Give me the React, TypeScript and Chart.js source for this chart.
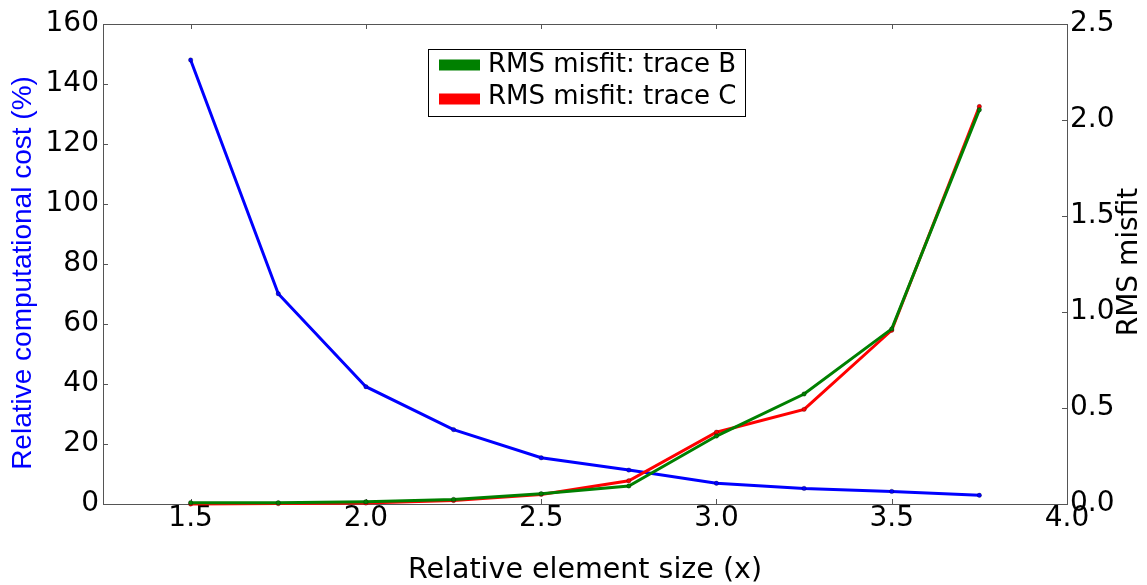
import React, { useEffect, useRef } from "react";
import { Chart, registerables } from "chart.js";

Chart.register(...registerables);

// ---- data ----
const elementSize = [1.5, 1.75, 2.0, 2.25, 2.5, 2.75, 3.0, 3.25, 3.5, 3.75];
const costPercent = [148, 70.1, 39.1, 24.8, 15.4, 11.3, 6.9, 5.2, 4.2, 2.9];
const rmsTraceB = [0.007, 0.007, 0.012, 0.024, 0.054, 0.094, 0.354, 0.573, 0.912, 2.053];
const rmsTraceC = [0.0, 0.002, 0.005, 0.018, 0.05, 0.121, 0.374, 0.493, 0.905, 2.07];

const xTickValues = [1.5, 2.0, 2.5, 3.0, 3.5, 4.0];
const leftTickValues = [0, 20, 40, 60, 80, 100, 120, 140, 160];
const rightTickValues = [0, 0.5, 1.0, 1.5, 2.0, 2.5];

const xTitle = "Relative element size (x)";
const leftTitle = "Relative computational cost (%)";
const rightTitle = "RMS misfit";
const labelB = "RMS misfit: trace B";
const labelC = "RMS misfit: trace C";

const W = 1147;
const H = 585;

const toPoints = (ys: number[]) => elementSize.map((x, i) => ({ x, y: ys[i] }));

const framePlugin = {
  id: "frameTicks",
  beforeDatasetsDraw(chart: any) {
    const { ctx, chartArea, scales } = chart;
    const { left, right, top, bottom } = chartArea;
    ctx.save();
    ctx.strokeStyle = "#555";
    ctx.lineWidth = 1;
    ctx.strokeRect(Math.round(left) + 0.5, Math.round(top) + 0.5, Math.round(right - left), Math.round(bottom - top));
    const L = 5;
    ctx.beginPath();
    scales.x.ticks.forEach((t: any) => {
      const px = Math.round(scales.x.getPixelForValue(t.value)) + 0.5;
      ctx.moveTo(px, bottom);
      ctx.lineTo(px, bottom - L);
      ctx.moveTo(px, top);
      ctx.lineTo(px, top + L);
    });
    scales.y.ticks.forEach((t: any) => {
      const py = Math.round(scales.y.getPixelForValue(t.value)) + 0.5;
      ctx.moveTo(left, py);
      ctx.lineTo(left + L, py);
    });
    scales.y1.ticks.forEach((t: any) => {
      const py = Math.round(scales.y1.getPixelForValue(t.value)) + 0.5;
      ctx.moveTo(right, py);
      ctx.lineTo(right - L, py);
    });
    ctx.stroke();
    ctx.restore();
  },
};

const titlesPlugin = {
  id: "yTitles",
  afterDraw(chart: any) {
    const { ctx } = chart;
    ctx.save();
    ctx.textAlign = "center";
    ctx.textBaseline = "middle";
    // left title
    ctx.save();
    ctx.translate(23, 273);
    ctx.rotate(-Math.PI / 2);
    ctx.fillStyle = "#0000ff";
    ctx.font = '28px "Liberation Sans", Arial, sans-serif';
    ctx.fillText(leftTitle, 0, 0);
    ctx.restore();
    // right title
    ctx.save();
    ctx.translate(1130, 262);
    ctx.rotate(-Math.PI / 2);
    ctx.fillStyle = "#000";
    ctx.font = '28px "DejaVu Sans", sans-serif';
    ctx.fillText(rightTitle, 0, 0);
    ctx.restore();
    ctx.restore();
  },
};

const legendPlugin = {
  id: "boxLegend",
  afterDraw(chart: any) {
    const { ctx } = chart;
    const items = chart.data.datasets.filter((d: any) => d.yAxisID === "y1");
    const bx = 428, by = 49, bw = 317, bh = 67;
    ctx.save();
    ctx.fillStyle = "#fff";
    ctx.fillRect(bx, by, bw, bh);
    ctx.strokeStyle = "#000";
    ctx.lineWidth = 1;
    ctx.strokeRect(bx + 0.5, by + 0.5, bw, bh);
    const textY = [65.5, 97];
    const swY = [65, 99];
    ctx.font = '26px "DejaVu Sans", sans-serif';
    ctx.textBaseline = "middle";
    ctx.textAlign = "left";
    items.forEach((d: any, i: number) => {
      ctx.fillStyle = d.borderColor;
      ctx.fillRect(439, swY[i] - 5.5, 41, 11);
      ctx.fillStyle = "#000";
      ctx.fillText(d.label, 488, textY[i]);
    });
    ctx.restore();
  },
};

export default function App() {
  const ref = useRef<HTMLCanvasElement | null>(null);

  useEffect(() => {
    if (!ref.current) return;
    const tickFont = { family: '"DejaVu Sans", sans-serif', size: 28, lineHeight: 1 };
    const chart = new Chart(ref.current, {
      type: "line",
      data: {
        datasets: [
          {
            label: labelB,
            data: toPoints(rmsTraceB),
            yAxisID: "y1",
            borderColor: "#008000",
            backgroundColor: "#008000",
            borderWidth: 3,
            pointRadius: 2.2,
            pointBackgroundColor: "#008000",
            pointBorderColor: "rgba(0,0,0,0.6)",
            pointBorderWidth: 0.5,
            tension: 0,
            clip: false,
            order: 1,
          },
          {
            label: labelC,
            data: toPoints(rmsTraceC),
            yAxisID: "y1",
            borderColor: "#ff0000",
            backgroundColor: "#ff0000",
            borderWidth: 3,
            pointRadius: 2.2,
            pointBackgroundColor: "#ff0000",
            pointBorderColor: "rgba(0,0,0,0.6)",
            pointBorderWidth: 0.5,
            tension: 0,
            clip: false,
            order: 2,
          },
          {
            label: leftTitle,
            data: toPoints(costPercent),
            yAxisID: "y",
            borderColor: "#0000ff",
            backgroundColor: "#0000ff",
            borderWidth: 3,
            pointRadius: 2.2,
            pointBackgroundColor: "#0000ff",
            pointBorderColor: "rgba(0,0,0,0.6)",
            pointBorderWidth: 0.5,
            tension: 0,
            clip: false,
            order: 3,
          },
        ],
      },
      options: {
        responsive: false,
        maintainAspectRatio: false,
        animation: false,
        layout: { padding: { top: 24, left: 0, right: 0, bottom: 0 } },
        plugins: { legend: { display: false }, tooltip: { enabled: false } },
        scales: {
          x: {
            type: "linear",
            position: "bottom",
            min: 1.25,
            max: 4.0,
            afterBuildTicks: (s: any) => {
              s.ticks = xTickValues.map((value) => ({ value }));
            },
            afterFit: (s: any) => {
              s.height = 81;
            },
            grid: { display: false, drawTicks: false },
            border: { display: false },
            ticks: {
              font: tickFont,
              color: "#000",
              padding: 1,
              maxRotation: 0,
              autoSkip: false,
              callback: (v: any) => Number(v).toFixed(1),
            },
            title: {
              display: true,
              text: xTitle,
              color: "#000",
              font: { family: '"DejaVu Sans", sans-serif', size: 28.5, lineHeight: 1 },
              padding: { top: 0, bottom: 0 },
            },
          },
          y: {
            type: "linear",
            position: "left",
            min: 0,
            max: 160,
            afterBuildTicks: (s: any) => {
              s.ticks = leftTickValues.map((value) => ({ value }));
            },
            afterFit: (s: any) => {
              s.width = 103;
            },
            grid: { display: false, drawTicks: false },
            border: { display: false },
            ticks: {
              font: tickFont,
              color: "#000",
              padding: 4,
              autoSkip: false,
              callback: (v: any) => String(v),
            },
          },
          y1: {
            type: "linear",
            position: "right",
            min: 0,
            max: 2.5,
            afterBuildTicks: (s: any) => {
              s.ticks = rightTickValues.map((value) => ({ value }));
            },
            afterFit: (s: any) => {
              s.width = 80;
            },
            grid: { display: false, drawTicks: false },
            border: { display: false },
            ticks: {
              font: tickFont,
              color: "#000",
              padding: 3,
              autoSkip: false,
              callback: (v: any) => Number(v).toFixed(1),
            },
          },
        },
      },
      plugins: [framePlugin, titlesPlugin, legendPlugin],
    } as any);
    return () => chart.destroy();
  }, []);

  return (
    <div style={{ position: "fixed", left: 0, top: 0, width: W, height: H, background: "#fff" }}>
      <canvas ref={ref} width={W} height={H} style={{ display: "block", width: W, height: H }} />
    </div>
  );
}
